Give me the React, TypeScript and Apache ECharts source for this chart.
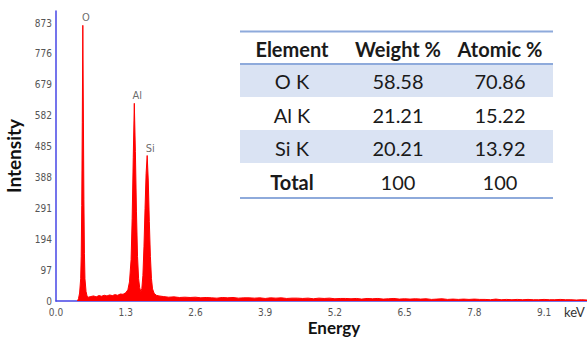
import React, { useEffect, useRef } from "react";
import * as echarts from "echarts";

// Spectrum (energy in keV, counts)
const energies = [
  0.40, 0.42, 0.44, 0.46, 0.47, 0.48, 0.49, 0.50, 0.51, 0.52, 0.53, 0.54, 0.56, 0.58, 0.60,
  0.65, 0.70, 0.75, 0.80, 0.85, 0.90, 0.95, 1.00, 1.05, 1.10, 1.15, 1.20, 1.25, 1.30,
  1.34, 1.37, 1.40, 1.42, 1.44, 1.46, 1.48, 1.50, 1.52, 1.54, 1.56, 1.58, 1.60,
  1.62, 1.64, 1.66, 1.68, 1.70, 1.72, 1.74, 1.76, 1.78, 1.80, 1.83, 1.87, 1.92, 2.0,
  2.1, 2.2, 2.3, 2.4, 2.5, 2.6, 2.7, 2.8, 2.9, 3.0, 3.1, 3.2, 3.3, 3.4, 3.5, 3.6, 3.7, 3.8, 3.9,
  4.0, 4.1, 4.2, 4.3, 4.4, 4.5, 4.6, 4.7, 4.8, 4.9, 5.0, 5.1, 5.2, 5.3, 5.4, 5.5, 5.6, 5.7, 5.8, 5.9,
  6.0, 6.1, 6.2, 6.3, 6.4, 6.5, 6.6, 6.7, 6.8, 6.9, 7.0, 7.1, 7.2, 7.3, 7.4, 7.5, 7.6, 7.7, 7.8, 7.9,
  8.0, 8.1, 8.2, 8.3, 8.4, 8.5, 8.6, 8.7, 8.8, 8.9, 9.0, 9.1, 9.2, 9.3, 9.4, 9.5, 9.6, 9.7, 9.8, 9.9,
];
const counts = [
  0, 8, 25, 70, 140, 300, 560, 866, 600, 320, 150, 70, 30, 15, 12,
  14, 16, 13, 17, 15, 18, 16, 19, 17, 20, 18, 22, 21, 26,
  35, 60, 130, 260, 450, 621, 470, 280, 140, 70, 42, 30, 38,
  80, 170, 290, 400, 457, 380, 250, 140, 70, 38, 24, 18, 16, 14,
  12, 13, 11, 12, 11, 12, 10, 11, 10, 9, 11, 10, 11, 9, 10, 10, 9, 10, 8,
  10, 9, 10, 8, 9, 9, 8, 9, 7, 9, 8, 9, 7, 8, 8, 7, 8, 6, 8, 7,
  8, 6, 7, 8, 6, 7, 6, 7, 6, 7, 5, 6, 7, 5, 6, 5, 6, 5, 6, 5,
  5, 4, 6, 4, 5, 4, 5, 4, 5, 4, 4, 5, 4, 4, 5, 4, 4, 3, 4, 3,
];

// Peak labels
const peakNames = ["O", "Al", "Si"];
const peakEnergies = [0.50, 1.46, 1.70];
const peakCounts = [866, 621, 457];

// Axis ticks
const yInterval = 97;
const yTopTick = 873;
const xInterval = 1.3;
const xLastTick = 9.1;

// Composition table
const tableHeader = ["Element", "Weight %", "Atomic %"];
const tableElements = ["O K", "Al K", "Si K", "Total"];
const tableWeight = ["58.58", "21.21", "20.21", "100"];
const tableAtomic = ["70.86", "15.22", "13.92", "100"];

const TABLE_FONT = "Lato, 'Open Sans', sans-serif";
const AXIS_FONT = "'Liberation Sans Narrow', 'DejaVu Sans Condensed', 'Noto Sans', sans-serif";

export default function App() {
  const ref = useRef<HTMLDivElement>(null);
  useEffect(() => {
    if (!ref.current) return;
    const chart = echarts.init(ref.current, null, { renderer: "svg" });

    const spectrum = energies.map((e, i) => [e, counts[i]]);
    const peaks = peakEnergies.map((e, i) => ({ value: [e, peakCounts[i]], name: peakNames[i] }));

    const colX = [292, 398, 500];
    const tLeft = 240, tRight = 553;
    const headerY = 49;
    const rowY = [81, 115, 148, 182];
    const lineColor = "#8eaadb";
    const shade = "#dae3f3";

    const graphic: any[] = [
      { type: "rect", shape: { x: tLeft, y: 31, width: tRight - tLeft, height: 168 }, style: { fill: "#fff" }, z: 10 },
      { type: "rect", shape: { x: tLeft, y: 64, width: tRight - tLeft, height: 33 }, style: { fill: shade }, z: 11 },
      { type: "rect", shape: { x: tLeft, y: 130, width: tRight - tLeft, height: 33 }, style: { fill: shade }, z: 11 },
      { type: "line", shape: { x1: tLeft, y1: 31.5, x2: tRight, y2: 31.5 }, style: { stroke: lineColor, lineWidth: 2 }, z: 12 },
      { type: "line", shape: { x1: tLeft, y1: 64, x2: tRight, y2: 64 }, style: { stroke: lineColor, lineWidth: 2 }, z: 12 },
      { type: "line", shape: { x1: tLeft, y1: 198, x2: tRight, y2: 198 }, style: { stroke: lineColor, lineWidth: 2 }, z: 12 },
    ];
    tableHeader.forEach((h, i) => {
      graphic.push({
        type: "text", x: colX[i], y: headerY, z: 13,
        style: { text: h, font: `bold 20px ${TABLE_FONT}`, fill: "#1a1a1a", textAlign: "center", textVerticalAlign: "middle" },
      });
    });
    tableElements.forEach((el, r) => {
      const cells = [el, tableWeight[r], tableAtomic[r]];
      cells.forEach((c, i) => {
        const bold = r === tableElements.length - 1 && i === 0;
        graphic.push({
          type: "text", x: colX[i], y: rowY[r], z: 13,
          style: { text: c, font: `${bold ? "bold " : ""}20px ${TABLE_FONT}`, fill: "#1a1a1a", textAlign: "center", textVerticalAlign: "middle" },
        });
      });
    });
    graphic.push({
      type: "text", x: 334, y: 327, z: 13,
      style: { text: "Energy", font: `bold 17px ${TABLE_FONT}`, fill: "#111", textAlign: "center", textVerticalAlign: "middle" },
    });
    graphic.push({
      type: "text", x: 564, y: 312, z: 13,
      style: { text: "keV", font: `13px ${TABLE_FONT}`, fill: "#333", textAlign: "left", textVerticalAlign: "middle" },
    });

    chart.setOption({
      animation: false,
      backgroundColor: "#fff",
      grid: { left: 56, right: 0, top: 11, bottom: 37, containLabel: false, outerBoundsMode: "none" },
      xAxis: {
        type: "value", min: 0, max: 9.9, interval: xInterval,
        axisLine: { show: true, lineStyle: { color: "#4646e6", width: 1.5 } },
        axisTick: { show: false },
        splitLine: { show: false },
        axisLabel: {
          color: "#555", fontSize: 10, lineHeight: 10, fontFamily: AXIS_FONT, margin: 6,
          formatter: (v: number) => (v > xLastTick + 0.05 ? "" : v.toFixed(1)),
        },
      },
      yAxis: {
        type: "value", min: 0, max: 911, interval: yInterval,
        name: "Intensity", nameLocation: "middle", nameGap: 33,
        nameTextStyle: { fontSize: 19, fontWeight: "bold", color: "#111", fontFamily: TABLE_FONT },
        axisLine: { show: true, lineStyle: { color: "#4646e6", width: 1.5 } },
        axisTick: { show: false },
        splitLine: { show: false },
        axisLabel: {
          color: "#555", fontSize: 10, fontFamily: AXIS_FONT, margin: 4,
          formatter: (v: number) => (v > yTopTick ? "" : String(v)),
        },
      },
      series: [
        {
          type: "line", data: spectrum, symbol: "none", smooth: false,
          lineStyle: { color: "#ff0000", width: 1 },
          areaStyle: { color: "#ff0000", opacity: 1 },
          z: 2,
        },
        {
          type: "scatter", data: peaks, symbolSize: 0,
          label: {
            show: true, position: "top", distance: 2, offset: [3, 0],
            formatter: (p: any) => p.name, color: "#444", fontSize: 11, fontFamily: AXIS_FONT,
          },
          z: 3,
        },
      ],
      graphic,
    });
    return () => chart.dispose();
  }, []);
  return <div ref={ref} style={{ width: 587, height: 338, position: "absolute", left: 0, top: 0 }} />;
}
